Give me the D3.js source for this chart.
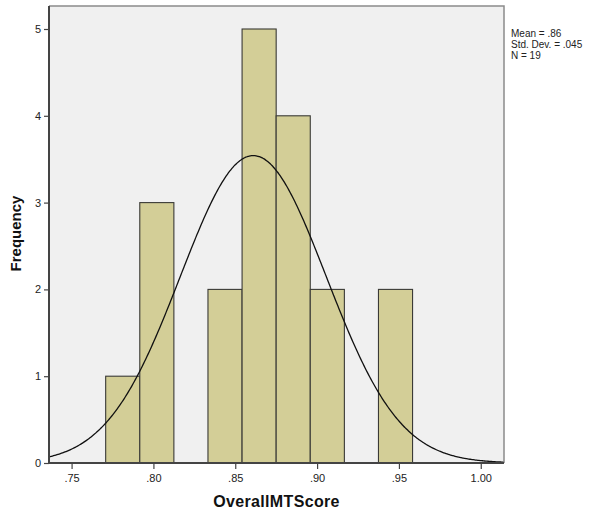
<!DOCTYPE html>
<html><head><meta charset="utf-8">
<script src="https://cdn.jsdelivr.net/npm/d3@7"></script>
<style>body{margin:0;background:#fff;}svg{display:block;font-family:"Liberation Sans",Arial,sans-serif;}</style>
</head><body>
<svg id="c" width="595" height="512"></svg>
<script>
// Data
const binEdges = [0.77083, 0.79167, 0.8125, 0.83333, 0.85417, 0.875, 0.89583, 0.91667, 0.9375, 0.95833];
const binCounts = [1, 3, 0, 2, 5, 4, 2, 0, 2];
const xTicks = [0.75, 0.80, 0.85, 0.90, 0.95, 1.00];
const xTickLabels = [".75", ".80", ".85", ".90", ".95", "1.00"];
const yTicks = [0, 1, 2, 3, 4, 5];
const statsLines = ["Mean = .86", "Std. Dev. = .045", "N = 19"];
const curveMean = 0.861, curveSd = 0.0446, nObs = 19;

const svg = d3.select("#c");
const L = 49, R = 504, T = 6, B = 463;
const x = d3.scaleLinear().domain([0.7362, 1.0142]).range([L, R]);
const y = d3.scaleLinear().domain([0, 5.265]).range([B, T]);

svg.append("rect").attr("x", L).attr("y", T).attr("width", R - L).attr("height", B - T)
  .attr("fill", "#f0f0f0");

const bins = binCounts.map((c, i) => ({x0: binEdges[i], x1: binEdges[i + 1], c}));
svg.append("g").selectAll("rect").data(bins.filter(d => d.c > 0)).join("rect")
  .attr("x", d => x(d.x0)).attr("y", d => y(d.c))
  .attr("width", d => x(d.x1) - x(d.x0)).attr("height", d => y(0) - y(d.c))
  .attr("fill", "#d3ce97").attr("stroke", "#3a3a36").attr("stroke-width", 1.1);

// normal curve
const bw = binEdges[1] - binEdges[0];
const pts = d3.range(0, 401).map(i => {
  const v = 0.7362 + (1.0142 - 0.7362) * i / 400;
  const f = nObs * bw / (curveSd * Math.sqrt(2 * Math.PI)) * Math.exp(-0.5 * ((v - curveMean) / curveSd) ** 2);
  return [v, f];
});
svg.append("path").datum(pts)
  .attr("d", d3.line().x(d => x(d[0])).y(d => y(d[1])).curve(d3.curveBasis))
  .attr("fill", "none").attr("stroke", "#111").attr("stroke-width", 1.3);

// frame top/right
svg.append("path").attr("d", `M${L},${T}H${R}V${B}`).attr("fill", "none")
  .attr("stroke", "#8a8a8a").attr("stroke-width", 1.5);

// axes
const xAxis = d3.axisBottom(x).tickValues(xTicks).tickFormat((d, i) => xTickLabels[i]).tickSize(6).tickSizeOuter(0);
const gx = svg.append("g").attr("transform", `translate(0,${B})`).call(xAxis);
const yAxis = d3.axisLeft(y).tickValues(yTicks).tickFormat(d3.format("d")).tickSize(5).tickSizeOuter(0);
const gy = svg.append("g").attr("transform", `translate(${L},0)`).call(yAxis);
[gx, gy].forEach(g => {
  g.select(".domain").attr("stroke", "#444").attr("stroke-width", 2);
  g.selectAll(".tick line").attr("stroke", "#444").attr("stroke-width", 1.2);
  g.selectAll(".tick text").attr("fill", "#222").attr("font-size", 11).attr("font-family", "Liberation Sans, Arial, sans-serif");
});
gy.select(".domain").attr("d", `M0,${B}V${T}`);
gx.select(".domain").attr("d", `M${L},0H${R}`);
gx.selectAll(".tick text").attr("dy", "0.95em");

// titles
svg.append("text").attr("x", 276.5).attr("y", 507).attr("text-anchor", "middle")
  .attr("font-size", 16).attr("letter-spacing", 0.35).attr("font-weight", "bold").attr("fill", "#111").text("OverallMTScore");
svg.append("text").attr("transform", `translate(20.5,233.5) rotate(-90)`).attr("text-anchor", "middle")
  .attr("font-size", 15).attr("font-weight", "bold").attr("fill", "#111").text("Frequency");

// stats legend
svg.append("g").selectAll("text").data(statsLines).join("text")
  .attr("x", 511).attr("y", (d, i) => 37 + i * 11)
  .attr("font-size", 10).attr("fill", "#222").text(d => d);
</script>
</body></html>
